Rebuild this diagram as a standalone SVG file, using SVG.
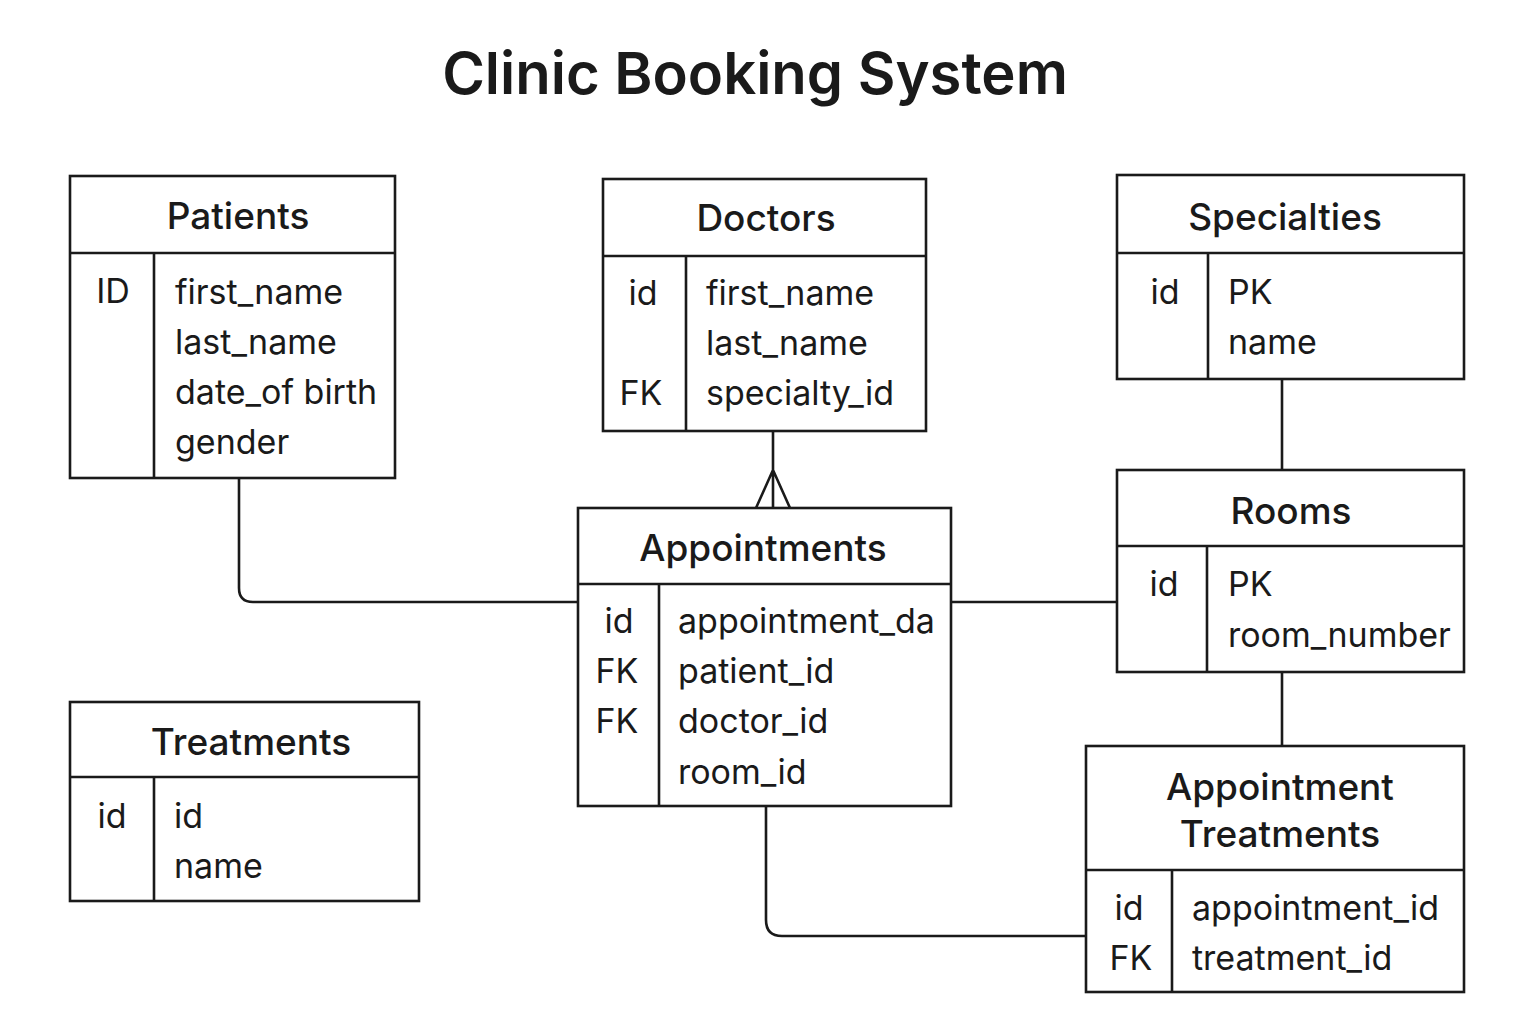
<svg xmlns="http://www.w3.org/2000/svg" width="1536" height="1024" viewBox="0 0 1536 1024">
<style>
.box{fill:#fff;stroke:#1a1a1a;stroke-width:2.6}
.ln{fill:none;stroke:#1a1a1a;stroke-width:2.6}
.ttl{font-family:Inter,"Liberation Sans",sans-serif;font-size:37px;font-weight:500;fill:#1a1a1a;text-anchor:middle}
.k{font-family:Inter,"Liberation Sans",sans-serif;font-size:34px;fill:#1a1a1a;text-anchor:middle}
.f{font-family:Inter,"Liberation Sans",sans-serif;font-size:34px;fill:#1a1a1a}
.main{font-family:Inter,"Liberation Sans",sans-serif;font-size:58px;font-weight:600;fill:#1a1a1a;text-anchor:middle}
</style>
<rect width="1536" height="1024" fill="#fff"/>
<text class="main" x="755" y="94">Clinic Booking System</text>
<g id="connectors">
<path class="ln" d="M239 478 V588 Q239 602 253 602 H578"/>
<path class="ln" d="M773 431 V508 M773 470 L756 508 M773 470 L790 508"/>
<path class="ln" d="M951 602 H1117"/>
<path class="ln" d="M1282 379 V470"/>
<path class="ln" d="M1282 672 V746"/>
<path class="ln" d="M766 806 V920 Q766 936 782 936 H1086"/>
</g>
<g id="patients">
<rect class="box" x="70" y="176" width="325" height="302"/>
<path class="ln" d="M70 253 H395 M154 253 V478"/>
<text class="ttl" x="238" y="229">Patients</text>
<text class="k" x="113" y="303">ID</text>
<text class="f" x="175" y="304">first_name</text>
<text class="f" x="175" y="354">last_name</text>
<text class="f" x="175" y="404">date_of birth</text>
<text class="f" x="175" y="454">gender</text>
</g>
<g id="doctors">
<rect class="box" x="603" y="179" width="323" height="252"/>
<path class="ln" d="M603 256 H926 M686 256 V431"/>
<text class="ttl" x="766" y="231">Doctors</text>
<text class="k" x="643" y="305">id</text>
<text class="k" x="641" y="405">FK</text>
<text class="f" x="706" y="305">first_name</text>
<text class="f" x="706" y="355">last_name</text>
<text class="f" x="706" y="405">specialty_id</text>
</g>
<g id="specialties">
<rect class="box" x="1117" y="175" width="347" height="204"/>
<path class="ln" d="M1117 253 H1464 M1208 253 V379"/>
<text class="ttl" x="1285" y="230">Specialties</text>
<text class="k" x="1165" y="304">id</text>
<text class="f" x="1228" y="304">PK</text>
<text class="f" x="1228" y="354">name</text>
</g>
<g id="rooms">
<rect class="box" x="1117" y="470" width="347" height="202"/>
<path class="ln" d="M1117 546 H1464 M1207 546 V672"/>
<text class="ttl" x="1291" y="524">Rooms</text>
<text class="k" x="1164" y="596">id</text>
<text class="f" x="1228" y="596">PK</text>
<text class="f" x="1228" y="647">room_number</text>
</g>
<g id="appointments">
<rect class="box" x="578" y="508" width="373" height="298"/>
<path class="ln" d="M578 584 H951 M659 584 V806"/>
<text class="ttl" x="763" y="561">Appointments</text>
<text class="k" x="619" y="633">id</text>
<text class="k" x="617" y="683">FK</text>
<text class="k" x="617" y="733">FK</text>
<text class="f" x="678" y="633">appointment_da</text>
<text class="f" x="678" y="683">patient_id</text>
<text class="f" x="678" y="733">doctor_id</text>
<text class="f" x="678" y="784">room_id</text>
</g>
<g id="treatments">
<rect class="box" x="70" y="702" width="349" height="199"/>
<path class="ln" d="M70 777 H419 M154 777 V901"/>
<text class="ttl" x="251" y="755">Treatments</text>
<text class="k" x="112" y="828">id</text>
<text class="f" x="174" y="828">id</text>
<text class="f" x="174" y="878">name</text>
</g>
<g id="appointment-treatments">
<rect class="box" x="1086" y="746" width="378" height="246"/>
<path class="ln" d="M1086 870 H1464 M1172 870 V992"/>
<text class="ttl" x="1280" y="800">Appointment</text>
<text class="ttl" x="1280" y="847">Treatments</text>
<text class="k" x="1129" y="920">id</text>
<text class="k" x="1131" y="970">FK</text>
<text class="f" x="1192" y="920">appointment_id</text>
<text class="f" x="1192" y="970">treatment_id</text>
</g>
</svg>
